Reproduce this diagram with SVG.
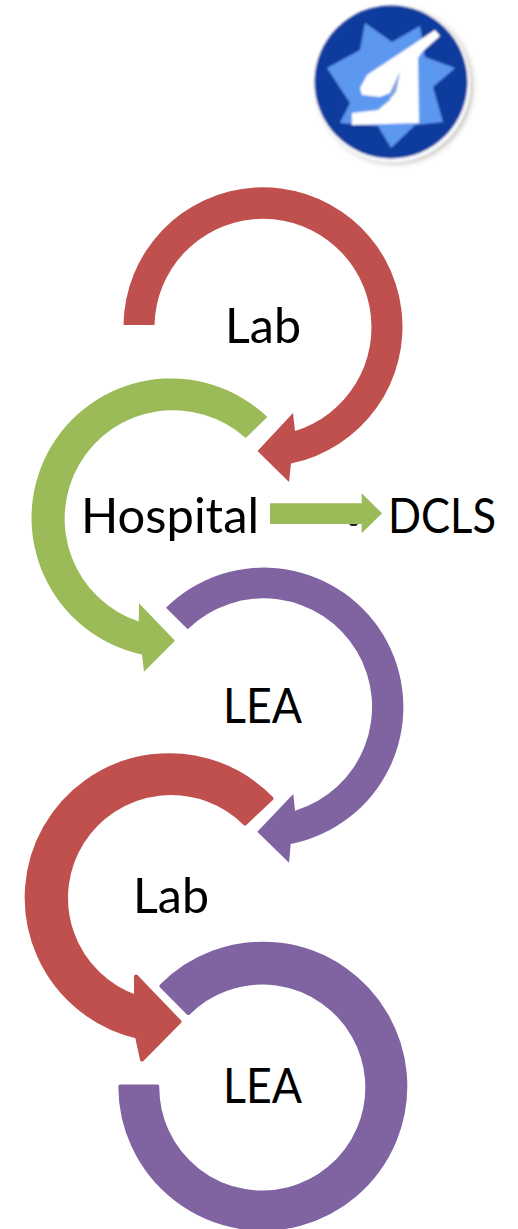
<svg xmlns="http://www.w3.org/2000/svg" width="518" height="1229" viewBox="0 0 518 1229">
<style>
.t{font-family:Lato,"Liberation Sans",sans-serif;font-size:49px;fill:#000}
.r{fill:#C0504D}.g{fill:#9BBB59}.p{fill:#8064A2}
.rr{stroke-width:4;stroke-linejoin:round}
</style>
<defs>
<filter id="sh" x="-20%" y="-20%" width="140%" height="140%"><feGaussianBlur stdDeviation="3"/></filter>
<filter id="bl" x="-5%" y="-5%" width="110%" height="110%"><feGaussianBlur stdDeviation="0.9"/></filter>
</defs>
<rect width="518" height="1229" fill="#fff"/>
<g id="logo">
<circle cx="395" cy="86" r="77" fill="#6a6050" opacity=".5" filter="url(#sh)"/>
<g filter="url(#bl)">
<circle cx="392" cy="84" r="79" fill="#f6f8fa"/>
<circle cx="391" cy="82" r="76.5" fill="#0A3A9E"/>
<polygon points="365,23 392,42 420,26 425,57 455,68 433,87 443,122 415,125 391,148 378,126 340,123 350,103 327,68 360,50" fill="#5C97F0"/>
<polygon points="435,30 440,36 422,52 418,58 419,123 352,125 352,113 378,110 390,100 400,72 390,93 380,97 362,95 360,88 367,75" fill="#fff"/>
<polygon points="400,72 396,92 389,100 390,93" fill="#7F9FD8"/>
</g>
</g>
<g id="connectors">
<path class="g" d="M267.3,417 A139.5,139.5 0 1 0 142,654.4 L144,671.7 L175,640.7 L139,603.3 L138.8,621.6 A108.5,108.5 0 1 1 245.7,438 Z"/>
<path class="r" d="M123.5,325 A139.5,139.5 0 1 1 291,463.5 L289,482 L257.5,451 L293,413 L295,431 A108.5,108.5 0 1 0 154.5,325 Z"/>
<path class="p" d="M166,607.7 A139.5,139.5 0 1 1 290.7,844 L289,862.7 L257.3,831.7 L293.3,794 L295,810.7 A108.5,108.5 0 1 0 187.7,629.3 Z"/>
<path class="r rr" stroke="#C0504D" d="M271.5,798.5 A142.5,142.5 0 1 0 137,1036.5 L142,1059.5 L179.5,1021.7 L136,976.5 L136,997 A105,105 0 1 1 245,823.5 Z"/>
<path class="p rr" stroke="#8064A2" d="M161.5,986 A142.5,142.5 0 1 1 120.3,1086.5 L157.3,1086.5 A105,105 0 1 0 188.3,1013 Z"/>
<path d="M349,524 h9 l-2,2 h-5 z" fill="#222"/>
<polygon class="g" points="270,503.3 361.7,503.3 361.7,493.3 382,513.3 361.7,533.3 361.7,524 270,524"/>
</g>
<g id="node-lab-1"><text class="t" x="225" y="343" textLength="76" lengthAdjust="spacingAndGlyphs">Lab</text></g>
<g id="node-hospital"><text class="t" x="81" y="533" textLength="178" lengthAdjust="spacingAndGlyphs">Hospital</text></g>
<g id="node-dcls"><text class="t" x="388" y="533" textLength="108" lengthAdjust="spacingAndGlyphs">DCLS</text></g>
<g id="node-lea-1"><text class="t" x="223" y="723" textLength="79" lengthAdjust="spacingAndGlyphs">LEA</text></g>
<g id="node-lab-2"><text class="t" x="133" y="913" textLength="76" lengthAdjust="spacingAndGlyphs">Lab</text></g>
<g id="node-lea-2"><text class="t" x="223" y="1103" textLength="79" lengthAdjust="spacingAndGlyphs">LEA</text></g>
</svg>
